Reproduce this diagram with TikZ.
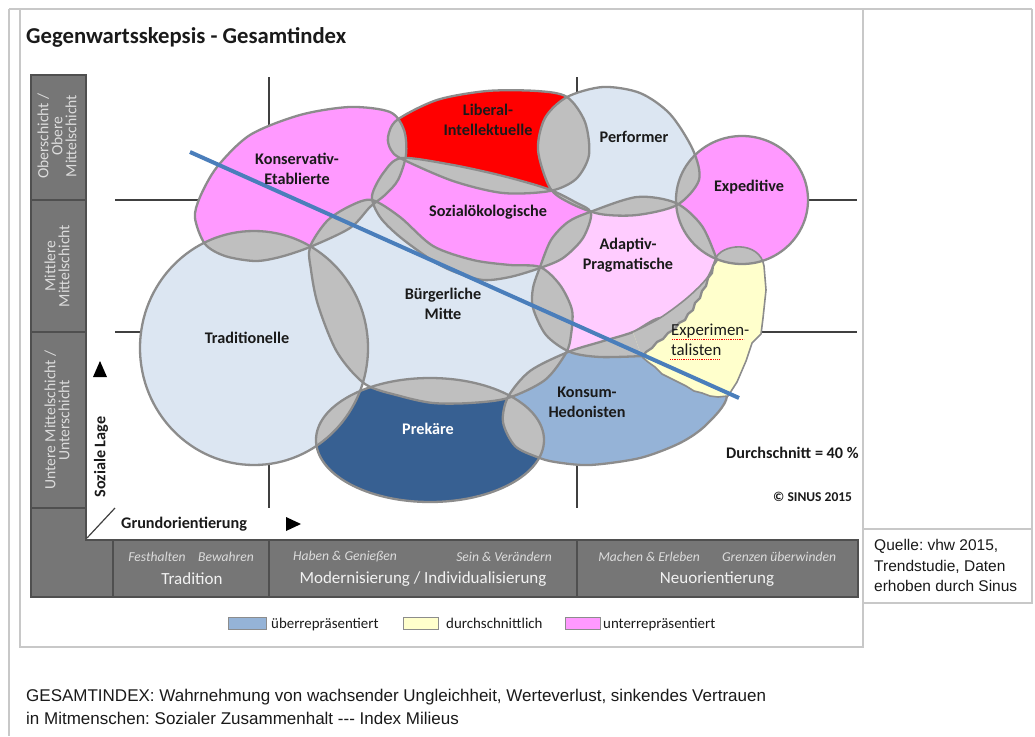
\documentclass[tikz,border=0pt]{standalone}
\usepackage{fontspec}
\setmainfont{Carlito}
\newfontfamily\arialf{Liberation Sans}

\definecolor{lblue}{HTML}{DCE6F2}
\definecolor{pinkm}{HTML}{FF99FF}
\definecolor{redm}{HTML}{FF0000}
\definecolor{lpink}{HTML}{FFCCFF}
\definecolor{yelm}{HTML}{FFFFCC}
\definecolor{mblue}{HTML}{95B3D7}
\definecolor{dblue}{HTML}{376092}
\definecolor{ovl}{HTML}{BFBFBF}
\definecolor{edgec}{HTML}{8C8C8C}
\definecolor{barfill}{HTML}{767676}
\definecolor{barline}{HTML}{4F4F4F}
\definecolor{bartext}{HTML}{DCDCDC}
\definecolor{gridc}{HTML}{404040}
\definecolor{trend}{HTML}{4A7EBB}
\definecolor{framec}{HTML}{C8C8C8}
\definecolor{txtc}{HTML}{1A1A1A}

% milieu outlines (coordinates in px, y pointing down)
\def\shT{(254,348) ellipse [x radius=114pt, y radius=117pt]}
\def\shE{(742,200) ellipse [x radius=66pt, y radius=64pt]}
\def\shPr{(430,440) ellipse [x radius=114pt, y radius=62pt]}
\def\shK{plot[smooth cycle] coordinates {(195,218) (200,197) (217,167) (250,135) (300,115) (350,107) (390,112) (404,130) (406,155) (398,180) (385,195) (370,207) (350,228) (310,247) (280,257) (255,261) (225,256) (205,244)}}
\def\shL{plot[smooth cycle] coordinates {(388,137) (397,120) (437,100) (487,91) (537,91) (567,97) (585,122) (589,155) (576,179) (550,191) (503,193) (453,181) (402,159) (391,150)}}
\def\shP{plot[smooth cycle] coordinates {(567,97) (603,87) (640,93) (670,114) (693,150) (699,180) (677,205) (637,215) (600,214) (570,203) (550,188) (538,150) (545,118)}}
\def\shS{plot[smooth cycle] coordinates {(372,196) (384,172) (402,158) (453,165) (503,176) (548,189) (575,202) (591,213) (583,238) (563,258) (540,268) (510,277) (483,280) (455,272) (433,261) (400,237) (380,217)}}
\def\shB{plot[smooth cycle] coordinates {(310,247) (327,221) (350,206) (372,200) (400,217) (433,246) (473,260) (510,265) (540,267) (560,285) (572,310) (571,335) (566,353) (545,380) (508,398) (470,403) (433,403) (400,396) (365,384) (337,352) (318,305) (311,270)}}
\def\shA{plot[smooth] coordinates {(643,356) (600,357) (570,352) (546,335) (533,308) (533,288) (540,267) (551,240) (568,222) (590,212) (637,197) (676,203) (702,226) (717,260)} -- (713,266) -- (712,273) -- (708,278) -- (706,286) -- (702,291) -- (700,298) -- (695,303) -- (693,310) -- (688,314) -- (685,320) -- (679,323) -- (675,329) -- (668,333) -- (663,339) -- (657,342) -- (652,348) -- (646,352) -- cycle}
\def\shC{plot[smooth cycle] coordinates {(508,397) (530,371) (568,352) (600,342) (633,332) (660,318) (690,325) (712,355) (727,396) (706,425) (680,443) (640,458) (590,465) (555,462) (537,457) (515,446) (503,422)}}
\def\shXopen{(642,357) -- (648,362) -- (655,367) -- (662,374) -- (670,378) -- (678,382) -- (686,386) -- (694,391) -- (702,393) -- (710,396) -- (718,397) -- (728,396) -- (737,382) -- (746,361) -- (752,343) -- (761,334) -- (763,318) -- (766,290) -- (764,266) .. controls (760,240) and (720,243) .. (715,260) -- plot[smooth] coordinates {(715,260) (707,278) (687,298) (660,318) (633,332)}}

\newcommand\ovlp[2]{\begin{scope}\clip #1; \fill[ovl] #2; \end{scope}}

\begin{document}
\frenchspacing
\begin{tikzpicture}[x=1pt,y=-1pt,
  framel/.style={draw=framec, line width=1.4pt},
  edgeline/.style={draw=edgec, line width=2.3pt},
  gridl/.style={draw=gridc, line width=2pt},
  lbl/.style={font=\bfseries\fontsize{16.2}{20}\selectfont, align=center, inner sep=0pt, text=txtc},
  bartxt/.style={font=\fontsize{15.6}{14}\selectfont, align=center, inner sep=0pt, text=bartext, rotate=90},
  bandit/.style={font=\itshape\fontsize{13.6}{15}\selectfont, inner sep=0pt, text=bartext},
  bandhd/.style={font=\fontsize{17}{19}\selectfont, inner sep=0pt, text=white!95!black},
  legtxt/.style={font=\fontsize{14.9}{16}\selectfont, inner sep=0pt, anchor=base west, text=txtc},
  swatch/.style={draw=edgec, line width=1pt},
  srctxt/.style={font=\arialf\fontsize{15.5}{20}\selectfont, inner sep=0pt, anchor=base west, text=txtc},
  captxt/.style={font=\arialf\fontsize{17}{23}\selectfont, inner sep=0pt, anchor=base west, text=txtc},
]
\useasboundingbox (0,0) rectangle (1035,736);
\fill[white] (0,0) rectangle (1035,736);

% frames
\draw[framel] (9,9) -- (1032,9);
\draw[framel] (9,9) -- (9,736);
\draw[framel] (20,9) -- (20,647) -- (863,647) -- (863,9);
\draw[framel] (1032,9) -- (1032,603) -- (863,603);
\draw[framel] (863,529) -- (1032,529);

% title
\node[font=\bfseries\fontsize{22.7}{26}\selectfont, anchor=west, inner sep=0pt, text=txtc] (title) at (26,37) {Gegenwartsskepsis - Gesamtindex};

% grey scale bars
\fill[barfill] (31,75) rectangle (86,597);
\fill[barfill] (86,540) rectangle (858,597);
\draw[barline, line width=1.8pt] (31,75) -- (86,75) -- (86,540) -- (858,540) -- (858,597) -- (31,597) -- cycle;
\foreach \yy in {200,332,508} \draw[barline, line width=1.8pt] (31,\yy) -- (86,\yy);
\foreach \xx in {113,269,577} \draw[barline, line width=1.8pt] (\xx,540) -- (\xx,597);
\draw[gridc, line width=1.2pt] (87,538) -- (115,508);

\node[bartxt] (oben) at (57,136) {Oberschicht /\\Obere\\Mittelschicht};
\node[bartxt] (mitte) at (57,266) {Mittlere\\Mittelschicht};
\node[bartxt] (unten) at (57,420) {Untere Mittelschicht /\\Unterschicht};

\node[bandit] (fest) at (157,557) {Festhalten};
\node[bandit] (bew) at (226,557) {Bewahren};
\node[bandhd] (trad) at (192,579) {Tradition};
\node[bandit] (haben) at (345,557) {Haben \& Genießen};
\node[bandit] (sein) at (504,557) {Sein \& Verändern};
\node[bandhd] (moder) at (423,579) {Modernisierung / Individualisierung};
\node[bandit] (machen) at (649,557) {Machen \& Erleben};
\node[bandit] (grenz) at (779,557) {Grenzen überwinden};
\node[bandhd] (neu) at (717,579) {Neuorientierung};

% grid lines
\draw[gridl] (269,77) -- (269,508);
\draw[gridl] (577,77) -- (577,508);
\draw[gridl] (115,200) -- (857,200);
\draw[gridl] (115,332) -- (857,332);

% axes
\fill[black] (93,377) -- (107,377) -- (100,361) -- cycle;
\fill[black] (286,517) -- (301,524) -- (286,531) -- cycle;
\node[lbl, rotate=90] (lage) at (101,457) {Soziale Lage};
\node[lbl, anchor=west] (grund) at (121,524) {Grundorientierung};

% milieu fills
\fill[lblue] \shT;
\fill[pinkm] \shK;
\fill[redm] \shL;
\fill[lblue] \shP;
\fill[pinkm] \shE;
\fill[pinkm] \shS;
\fill[lpink] \shA;
\fill[lblue] \shB;
\fill[mblue] \shC;
\fill[dblue] \shPr;

% overlaps
\ovlp{\shK}{\shT}
\ovlp{\shK}{\shB}
\ovlp{\shK}{\shS}
\ovlp{\shK}{\shL}
\ovlp{\shL}{\shS}
\ovlp{\shL}{\shP}
\ovlp{\shS}{\shP}
\ovlp{\shS}{\shB}
\ovlp{\shS}{\shA}
\ovlp{\shP}{\shA}
\ovlp{\shP}{\shE}
\ovlp{\shE}{\shA}
\ovlp{\shA}{\shB}
\ovlp{\shA}{\shC}
\ovlp{\shB}{\shT}
\ovlp{\shB}{\shC}
\ovlp{\shB}{\shPr}
\ovlp{\shT}{\shPr}
\ovlp{\shPr}{\shC}

\path[edgeline] \shC;

% Experimentalisten patch
\fill[yelm] \shXopen -- cycle;
\ovlp{\shXopen -- cycle}{\shA}
\ovlp{\shXopen -- cycle}{\shE}

% outlines
\path[edgeline] \shT;
\path[edgeline] \shK;
\path[edgeline] \shL;
\path[edgeline] \shP;
\path[edgeline] \shE;
\path[edgeline] \shS;
\path[edgeline] \shB;
\path[edgeline] \shPr;
\path[edgeline] \shA;
\path[draw=edgec, line width=1.6pt, line join=round] \shXopen;

% trend line
\draw[trend, line width=4pt] (190,152) -- (739,398);

% milieu labels
\node[lbl] (kons) at (297,169) {Konservativ-\\Etablierte};
\node[lbl] (lib) at (488,120) {Liberal-\\Intellektuelle};
\node[lbl] (perf) at (634,137) {Performer};
\node[lbl] (exped) at (749,187) {Expeditive};
\node[lbl] (sozi) at (488,212) {Sozialökologische};
\node[lbl] (adapt) at (628,255) {Adaptiv-\\Pragmatische};
\node[lbl] (buerg) at (443,304) {Bürgerliche\\Mitte};
\node[lbl] (tradi) at (247,338) {Traditionelle};
\node[lbl, text=white] (prek) at (428,429) {Prekäre};
\node[lbl] (konsum) at (587,402) {Konsum-\\Hedonisten};
\node[font=\fontsize{16.8}{20}\selectfont, align=left, inner sep=0pt, anchor=west, text=txtc] (exper) at (671,340) {Experimen-\\talisten};
\draw[red, densely dotted, line width=0.8pt] (672,339) -- (744,339);
\draw[red, densely dotted, line width=0.8pt] (670,359) -- (719,359);

\node[lbl, anchor=west] (avg) at (726,453) {Durchschnitt = 40 \%};
\node[font=\bfseries\fontsize{13.5}{15}\selectfont, anchor=west, inner sep=0pt, text=txtc] (copy) at (773,497) {© SINUS 2015};

% legend
\filldraw[swatch, fill=mblue] (228,617) rectangle (266,629);
\node[legtxt] (leg1) at (271,628) {überrepräsentiert};
\filldraw[swatch, fill=yelm] (403,617) rectangle (438,629);
\node[legtxt] (leg2) at (446,628) {durchschnittlich};
\filldraw[swatch, fill=pinkm] (565,617) rectangle (600,629);
\node[legtxt] (leg3) at (603,628) {unterrepräsentiert};

% source and caption
\node[srctxt] (src1) at (874,550) {Quelle: vhw 2015,};
\node[srctxt] (src2) at (874,571) {Trendstudie, Daten};
\node[srctxt] (src3) at (874,591) {erhoben durch Sinus};
\node[captxt] (cap1) at (26,701) {GESAMTINDEX: Wahrnehmung von wachsender Ungleichheit, Werteverlust, sinkendes Vertrauen};
\node[captxt] (cap2) at (26,724) {in Mitmenschen: Sozialer Zusammenhalt --- Index Milieus};
\end{tikzpicture}
\end{document}
